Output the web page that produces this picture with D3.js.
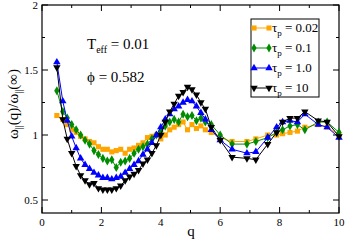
<!DOCTYPE html>
<html lang="en">
<head>
  <meta charset="UTF-8" />
  <script src="https://d3js.org/d3.v7.min.js"></script>
  <style>
    body { margin: 0; background: #fff; }
    text { font-family: "Liberation Serif", "DejaVu Serif", serif; }
  </style>
</head>
<body>
  <div id="chart"></div>

  <script>
    // shared q grid
    const qVals = [0.5, 0.7, 0.85, 1.0, 1.15, 1.3, 1.45, 1.6, 1.75, 1.9, 2.05, 2.2, 2.35, 2.5, 2.65, 2.8, 2.95,
      3.1, 3.25, 3.4, 3.55, 3.7, 3.85, 4.0, 4.15, 4.3, 4.45, 4.6, 4.75, 4.9, 5.05, 5.2, 5.35, 5.5, 5.7,
      6.0, 6.4, 6.9, 7.2, 7.6, 7.9, 8.1, 8.35, 8.6, 8.85, 9.3, 9.6, 10.0];

    const tau002 = [1.15, 1.12, 1.08, 1.04, 1.02, 0.99, 0.97, 0.95, 0.94, 0.91, 0.89, 0.89, 0.87, 0.88, 0.89, 0.86, 0.89,
      0.90, 0.92, 0.94, 0.98, 0.99, 1.0, 0.97, 1.0, 1.04, 1.06, 1.08, 1.10, 1.04, 1.08, 1.05, 1.07, 1.04, 1.02,
      0.98, 0.95, 0.95, 0.97, 1.0, 1.0, 1.01, 1.02, 1.03, 1.06, 1.08, 1.06, 1.0];
    const tau01 = [1.34, 1.18, 1.13, 1.08, 1.04, 1.0, 0.96, 0.93, 0.88, 0.85, 0.82, 0.80, 0.81, 0.75, 0.79, 0.80, 0.82,
      0.86, 0.89, 0.91, 0.93, 0.97, 1.0, 1.03, 1.07, 1.10, 1.12, 1.10, 1.16, 1.14, 1.15, 1.11, 1.13, 1.10, 1.08,
      1.0, 0.93, 0.93, 0.95, 0.98, 1.02, 1.04, 1.07, 1.08, 1.04, 1.10, 1.10, 1.02];
    const tau1 = [1.56, 1.26, 1.11, 0.99, 0.90, 0.82, 0.77, 0.74, 0.71, 0.69, 0.67, 0.67, 0.66, 0.67, 0.68, 0.71, 0.74,
      0.77, 0.80, 0.85, 0.89, 0.94, 1.0, 1.06, 1.12, 1.16, 1.20, 1.22, 1.25, 1.27, 1.26, 1.22, 1.17, 1.12, 1.04,
      0.96, 0.89, 0.86, 0.87, 0.98, 1.06, 1.10, 1.11, 1.10, 1.16, 1.08, 1.06, 0.98];
    const tau10 = [1.52, 1.12, 0.97, 0.86, 0.76, 0.69, 0.65, 0.62, 0.63, 0.59, 0.58, 0.58, 0.58, 0.59, 0.61, 0.65, 0.68,
      0.70, 0.73, 0.78, 0.81, 0.86, 0.92, 1.0, 1.10, 1.18, 1.24, 1.30, 1.33, 1.37, 1.35, 1.31, 1.25, 1.20, 1.06,
      0.96, 0.83, 0.82, 0.81, 0.93, 1.02, 1.10, 1.13, 1.13, 1.18, 1.11, 1.10, 0.99];

    const seriesNames = ["0.02", "0.1", "1.0", "10"];
    const seriesVals = [tau002, tau01, tau1, tau10];
    const colors = ["#ffa500", "#008c00", "#0000ff", "#000000"];
    const symbols = [d3.symbolSquare, d3.symbolDiamond, d3.symbolTriangle, d3.symbolTriangle];
    const xTicks = [0, 2, 4, 6, 8, 10];
    const yTicks = [0.5, 1, 1.5, 2];

    const W = 347, H = 240;
    const m = { left: 42, right: 8, top: 5, bottom: 27 };

    const svg = d3.select("#chart").append("svg").attr("width", W).attr("height", H);

    const x = d3.scaleLinear().domain([0, 10]).range([m.left, W - m.right]);
    const y = d3.scaleLinear().domain([0.4, 2]).range([H - m.bottom, m.top]);

    // frame + ticks on all sides (inward)
    const tickGroup = svg.append("g").attr("stroke", "#000").attr("stroke-width", 1);
    d3.range(0, 10.01, 1).forEach(v => {
      const len = v % 2 === 0 ? 6 : 3;
      tickGroup.append("line").attr("x1", x(v)).attr("x2", x(v)).attr("y1", y(0.4)).attr("y2", y(0.4) - len);
      tickGroup.append("line").attr("x1", x(v)).attr("x2", x(v)).attr("y1", y(2)).attr("y2", y(2) + len);
    });
    d3.range(0.5, 2.01, 0.25).forEach(v => {
      const len = Math.abs(v * 2 - Math.round(v * 2)) < 1e-6 ? 6 : 3;
      tickGroup.append("line").attr("y1", y(v)).attr("y2", y(v)).attr("x1", x(0)).attr("x2", x(0) + len);
      tickGroup.append("line").attr("y1", y(v)).attr("y2", y(v)).attr("x1", x(10)).attr("x2", x(10) - len);
    });
    svg.append("rect")
      .attr("x", x(0)).attr("y", y(2))
      .attr("width", x(10) - x(0)).attr("height", y(0.4) - y(2))
      .attr("fill", "none").attr("stroke", "#000").attr("stroke-width", 1.2);

    svg.selectAll(".xt").data(xTicks).enter().append("text")
      .attr("x", d => x(d)).attr("y", H - m.bottom + 13)
      .attr("text-anchor", "middle").attr("font-size", 11).text(d => d);
    svg.selectAll(".yt").data(yTicks).enter().append("text")
      .attr("x", x(0) - 4).attr("y", d => y(d) + 4)
      .attr("text-anchor", "end").attr("font-size", 11).text(d => d);

    // series
    const line = d3.line().x(d => x(d[0])).y(d => y(d[1]));
    seriesVals.forEach((vals, i) => {
      const pts = qVals.map((q, j) => [q, vals[j]]);
      const g = svg.append("g");
      g.append("path").attr("d", line(pts)).attr("fill", "none")
        .attr("stroke", colors[i]).attr("stroke-width", 1);
      const sym = d3.symbol().type(symbols[i]).size(i === 0 ? 26 : 24);
      g.selectAll("path.pt").data(pts).enter().append("path")
        .attr("class", "pt")
        .attr("d", sym)
        .attr("transform", d => `translate(${x(d[0])},${y(d[1])})` + (i === 3 ? " rotate(180)" : ""))
        .attr("fill", colors[i]);
    });

    // annotations
    const t1 = svg.append("text").attr("x", 87).attr("y", 49).attr("font-size", 15);
    t1.append("tspan").text("T");
    t1.append("tspan").attr("font-size", 10).attr("dy", 4).text("eff");
    t1.append("tspan").attr("dy", -4).text(" = 0.01");
    svg.append("text").attr("x", 87).attr("y", 82).attr("font-size", 15).text("\u03d5 = 0.582");

    // legend
    const lg = svg.append("g");
    lg.append("rect").attr("x", 251).attr("y", 19).attr("width", 68).attr("height", 78)
      .attr("fill", "#fff").attr("stroke", "#000").attr("stroke-width", 1);
    seriesNames.forEach((name, i) => {
      const yy = 28 + i * 20;
      lg.append("line").attr("x1", 254).attr("x2", 269).attr("y1", yy).attr("y2", yy)
        .attr("stroke", colors[i]).attr("stroke-width", 1);
      const sym = d3.symbol().type(symbols[i]).size(i === 0 ? 26 : 24);
      [254, 269].forEach(px => {
        lg.append("path").attr("d", sym)
          .attr("transform", `translate(${px},${yy})` + (i === 3 ? " rotate(180)" : ""))
          .attr("fill", colors[i]);
      });
      const t = lg.append("text").attr("x", 272).attr("y", yy + 4).attr("font-size", 13);
      t.append("tspan").text("\u03c4");
      t.append("tspan").attr("font-size", 9).attr("dy", 4).text("p");
      t.append("tspan").attr("dy", -4).text(" = " + name);
    });

    // axis titles
    svg.append("text").attr("x", 191).attr("y", 236).attr("text-anchor", "middle")
      .attr("font-size", 15).text("q");
    const yl = svg.append("text").attr("transform", "translate(18,104) rotate(-90)")
      .attr("text-anchor", "middle").attr("font-size", 15);
    yl.append("tspan").text("\u03c9");
    yl.append("tspan").attr("font-size", 10).attr("dy", 4).text("||");
    yl.append("tspan").attr("dy", -4).text("(q)/\u03c9");
    yl.append("tspan").attr("font-size", 10).attr("dy", 4).text("||");
    yl.append("tspan").attr("dy", -4).text("(\u221e)");
  </script>
</body>
</html>
